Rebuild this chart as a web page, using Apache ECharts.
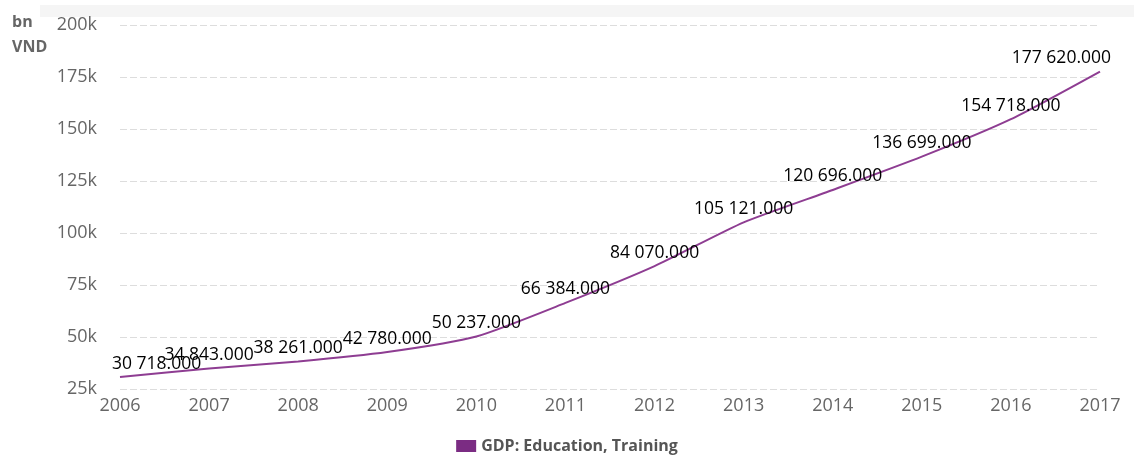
<!DOCTYPE html>
<html>
<head>
<meta charset="utf-8">
<script src="https://cdn.jsdelivr.net/npm/echarts@6/dist/echarts.min.js"></script>
<style>
  html, body { margin: 0; padding: 0; background: #fff; }
  #chart { width: 1134px; height: 456px; }
</style>
</head>
<body>
<div id="chart"></div>
<script>
const years = ['2006', '2007', '2008', '2009', '2010', '2011', '2012', '2013', '2014', '2015', '2016', '2017'];
const gdpEducation = [30718, 34843, 38261, 42780, 50237, 66384, 84070, 105121, 120696, 136699, 154718, 177620];
const seriesName = 'GDP: Education, Training';

// "30 718.000" style: space as thousands separator, three decimals
function fmtValue(v) {
  return String(v).replace(/\B(?=(\d{3})+(?!\d))/g, ' ') + '.000';
}

// first and last labels are pushed inside the plot, like the original
const lineData = gdpEducation.map((v, i) => {
  if (i === 0) return { value: v, label: { align: 'left', offset: [-8, 0] } };
  if (i === gdpEducation.length - 1) return { value: v, label: { align: 'right', offset: [11, 0] } };
  return v;
});

const myChart = echarts.init(document.getElementById('chart'));

const option = {
  animation: false,
  textStyle: { fontFamily: 'Open Sans' },
  graphic: [
    { type: 'rect', left: 40, top: 5, shape: { width: 1094, height: 12 }, style: { fill: '#f5f5f5' }, z: -1 },
    {
      type: 'text', left: 12, top: 10,
      style: { text: 'bn\nVND', font: 'bold 16px Open Sans', fill: '#666', lineHeight: 25 }
    }
  ],
  grid: { left: 120, right: 34, top: 25, bottom: 67, containLabel: false },
  legend: {
    top: 433,
    left: 'center',
    itemWidth: 20,
    itemHeight: 12,
    itemGap: 10,
    icon: 'rect',
    textStyle: { fontSize: 16, fontWeight: 'bold', color: '#555' },
    data: [{ name: seriesName, itemStyle: { color: '#7b2c83' } }]
  },
  xAxis: {
    type: 'category',
    data: years,
    boundaryGap: false,
    axisLine: { show: false },
    axisTick: { show: false },
    axisLabel: { fontSize: 18, color: '#666', margin: 8 }
  },
  yAxis: {
    type: 'value',
    min: 25000,
    max: 200000,
    interval: 25000,
    axisLine: { show: false },
    axisTick: { show: false },
    axisLabel: {
      fontSize: 18, color: '#666', margin: 23,
      formatter: v => (v / 1000) + 'k'
    },
    splitLine: { lineStyle: { type: [7, 3], color: '#ddd', width: 1 } }
  },
  series: [{
    name: seriesName,
    type: 'line',
    data: lineData,
    smooth: 0.2,
    showSymbol: true,
    symbol: 'circle',
    symbolSize: 1,
    lineStyle: { color: '#8e3d92', width: 2 },
    itemStyle: { color: 'rgba(0,0,0,0)' },
    label: {
      show: true,
      position: 'top',
      distance: 4,
      fontSize: 17.5,
      color: '#000',
      formatter: p => fmtValue(p.value)
    }
  }]
};

option && myChart.setOption(option);
</script>
</body>
</html>
